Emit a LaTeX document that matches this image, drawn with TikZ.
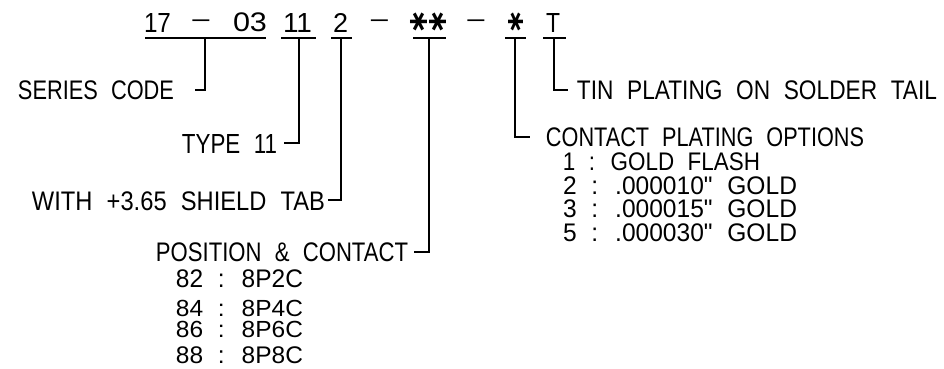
\documentclass[tikz,border=0pt]{standalone}
\usepackage{fontspec}
\setmainfont{Liberation Sans}
\newfontfamily\djv{DejaVu Sans}
\newfontfamily\qfont{Liberation Sans}[Ligatures=TeXOff]
\usepackage{graphicx}
\tikzset{
  lead/.style={line width=1.5pt, line cap=butt, line join=miter, black},
  lbl/.style={inner sep=0pt, outer sep=0pt, anchor=center},
}
% \tx{name}{x1}{y1}{x2}{y2}{text}: text fitted into the box (x1,y1)-(x2,y2)
\newcommand\tx[6]{\node[lbl] (#1) at ({(#2+#4)/2},{(#3+#5)/2})
  {\resizebox*{\dimexpr #4pt-#2pt\relax}{\dimexpr #5pt-#3pt\relax}{\spaceskip=0.6em\relax #6}};}
% a glyph in a box that is exactly as large as its ink
\newdimen\gL \newdimen\gT \newdimen\gR \newdimen\gB
\newcommand\inkglyph[1]{{%
  \count255=\XeTeXcharglyph`#1\relax
  \gL=\XeTeXglyphbounds1 \count255\relax
  \gT=\XeTeXglyphbounds2 \count255\relax
  \gR=\XeTeXglyphbounds3 \count255\relax
  \gB=\XeTeXglyphbounds4 \count255\relax
  \raisebox{\gB}[\dimexpr\gT+\gB\relax][0pt]{\kern-\gL #1\kern-\gR}}}
\newcommand\bigast[1]{\resizebox*{#1pt}{18pt}{\rotatebox{90}{\djv\bfseries\inkglyph{∗}}}}
\newcommand\bigdash{\resizebox*{17pt}{1.7pt}{\inkglyph{-}}}
\newcommand\qt{{\qfont\char"22}}
\begin{document}
\begin{tikzpicture}[x=1pt,y=-1pt]
\fill[white] (0,0) rectangle (944,369);
\useasboundingbox (0,0) rectangle (944,369);

% top code row
\tx{n17}{144}{13}{171}{32}{17}
\node[lbl] (h1) at (201,21) {\bigdash};
\tx{n03}{233}{13}{267}{32}{03}
\tx{n11}{283}{13}{312}{32}{11}
\tx{n2}{333}{13}{348}{32}{2}
\node[lbl] (h2) at (379.5,21) {\bigdash};
\node[lbl] (a2) at (428,22) {\bigast{17}\kern2pt\bigast{17}};
\node[lbl] (h3) at (476,21) {\bigdash};
\node[lbl] (a1) at (515.5,22) {\bigast{15}};
\tx{nT}{546}{13}{560}{32}{T}

% underlines
\draw[lead] (145,38) -- (266,38);
\draw[lead] (281,38) -- (316,38);
\draw[lead] (331,38) -- (352,38);
\draw[lead] (413,38) -- (446,38);
\draw[lead] (505,38) -- (526,38);
\draw[lead] (543,38) -- (566,38);

% leader start points (on the underlines)
\coordinate (u1) at (205,38);
\coordinate (u2) at (299,38);
\coordinate (u3) at (341,38);
\coordinate (u4) at (429,38);
\coordinate (u5) at (515,38);
\coordinate (u6) at (554,38);
% leader ends
\coordinate (s1) at (195,90);
\coordinate (s2) at (284,143);
\coordinate (s3) at (328,200);
\coordinate (s4) at (414,252);
\coordinate (s5) at (530,137);
\coordinate (s6) at (568,90);

% labels
\tx{series}{18}{80.5}{174}{99.5}{SERIES CODE}
\tx{type}{182}{134}{277}{153}{TYPE 11}
\tx{shield}{32}{192}{325}{211}{WITH +3.65 SHIELD TAB}
\tx{pos}{156}{243}{408}{262}{POSITION \& CONTACT}
\tx{p82}{176}{270}{303}{288}{82 : 8P2C}
\tx{p84}{176}{300}{303}{316.5}{84 : 8P4C}
\tx{p86}{176}{321}{303}{337.5}{86 : 8P6C}
\tx{p88}{176}{347}{303}{364}{88 : 8P8C}
\tx{tin}{577}{81}{937}{100}{TIN PLATING ON SOLDER TAIL}
\tx{cpo}{546}{128}{864}{147}{CONTACT PLATING OPTIONS}
\tx{c1}{563}{153}{760}{171}{1 : GOLD FLASH}
\tx{c2}{563}{177}{797}{195}{2 : .000010\qt{} GOLD}
\tx{c3}{563}{200}{797}{218}{3 : .000015\qt{} GOLD}
\tx{c5}{563}{224}{797}{242}{5 : .000030\qt{} GOLD}

% leaders
\draw[lead] (u1) |- (s1);
\draw[lead] (u2) |- (s2);
\draw[lead] (u3) |- (s3);
\draw[lead] (u4) |- (s4);
\draw[lead] (u5) |- (s5);
\draw[lead] (u6) |- (s6);
\end{tikzpicture}
\end{document}
